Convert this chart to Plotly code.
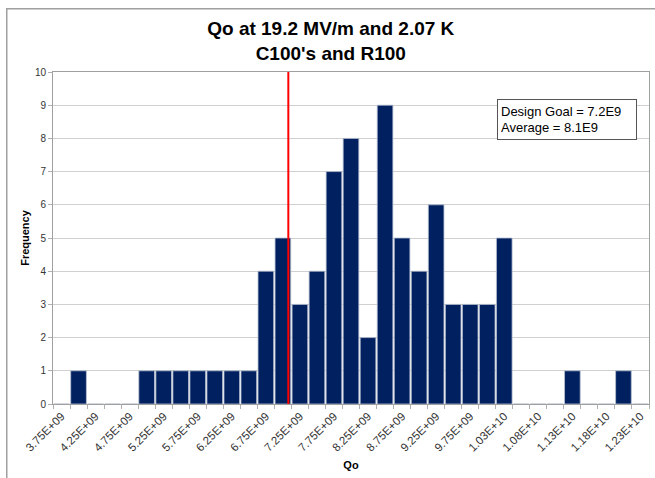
import plotly.graph_objects as go

# Bin centres (Qo) and counts
qo_bins = [3.75e9 + 0.25e9 * i for i in range(35)]
counts = [0, 1, 0, 0, 0, 1, 1, 1, 1, 1, 1, 1, 4, 5,
          3, 4, 7, 8, 2, 9, 5, 4, 6, 3, 3, 3, 5,
          0, 0, 0, 1, 0, 0, 1, 0]
tick_vals = qo_bins[::2]
tick_text = ["3.75E+09", "4.25E+09", "4.75E+09", "5.25E+09", "5.75E+09",
             "6.25E+09", "6.75E+09", "7.25E+09", "7.75E+09", "8.25E+09",
             "8.75E+09", "9.25E+09", "9.75E+09", "1.03E+10", "1.08E+10",
             "1.13E+10", "1.18E+10", "1.23E+10"]
goal_line_qo = 7.08e9
legend_lines = ["Design Goal = 7.2E9", "Average = 8.1E9"]

FONT = "Liberation Sans, Arial, sans-serif"
L, R, T, B = 53, 6, 72, 74
PW, PH = 655 - L - R, 478 - T - B


def px_x(px):
    return (px - L) / PW


def px_y(py):
    return (478 - B - py) / PH


fig = go.Figure()
fig.add_trace(go.Bar(
    x=qo_bins, y=counts,
    marker=dict(color="#002060", line=dict(color="#b8c0d0", width=0.8)),
    showlegend=False,
))

fig.add_shape(type="line", xref="x", yref="y",
              x0=goal_line_qo, x1=goal_line_qo, y0=0, y1=10,
              line=dict(color="#ff0000", width=2))

# outer chart frame (only top and left edges fall inside the picture)
fig.add_annotation(
    xref="paper", yref="paper", x=px_x(6), y=px_y(8),
    xanchor="left", yanchor="top", text=" ", showarrow=False,
    width=700, height=520, bordercolor="#a0a0a0", borderwidth=1.5,
    borderpad=0,
)

fig.add_annotation(
    xref="paper", yref="paper", x=px_x(497), y=px_y(99),
    xanchor="left", yanchor="top",
    text="<br>".join(legend_lines), showarrow=False, align="left",
    font=dict(family=FONT, size=13, color="#000"),
    bordercolor="#555", borderwidth=1, borderpad=3, bgcolor="white",
    width=132, height=33,
)

fig.update_layout(
    width=655, height=478, autosize=False,
    margin=dict(l=L, r=R, t=T, b=B, autoexpand=False),
    paper_bgcolor="white", plot_bgcolor="white",
    bargap=0.08,
    font=dict(family=FONT, color="#333"),
    title=dict(
        text="<b>Qo at 19.2 MV/m and 2.07 K<br>C100's and R100</b>",
        x=0.505, xref="container", xanchor="center",
        y=1 - 35 / 478, yref="container", yanchor="middle",
        font=dict(family=FONT, size=19, color="#000"),
    ),
    xaxis=dict(
        range=[3.625e9, 12.375e9], automargin=False,
        tickvals=tick_vals, ticktext=tick_text, tickangle=-45,
        ticks="", showgrid=False,
        minor=dict(tick0=3.625e9, dtick=0.25e9, ticks="outside",
                   ticklen=4, tickcolor="#b0b0b0", showgrid=False),
        showline=True, linecolor="#a0a0a0", mirror=True, linewidth=1,
        tickfont=dict(family=FONT, size=11.5, color="#333"),
        title=dict(text="<b>Qo</b>", standoff=8,
                   font=dict(family=FONT, size=11, color="#000")),
        zeroline=False,
    ),
    yaxis=dict(
        range=[0, 10], dtick=1, automargin=False,
        ticks="outside", ticklen=4, tickcolor="#b0b0b0",
        showgrid=True, gridcolor="#d0d0d0", gridwidth=1,
        showline=True, linecolor="#a0a0a0", mirror=True, linewidth=1,
        tickfont=dict(family=FONT, size=10, color="#333"),
        title=dict(text="<b>Frequency</b>", standoff=3,
                   font=dict(family=FONT, size=11, color="#000")),
        zeroline=False,
    ),
)

fig.write_html(
    "out.html",
    config={"displayModeBar": False},
    post_script="document.body.style.margin='0';document.body.style.overflow='hidden';",
)
